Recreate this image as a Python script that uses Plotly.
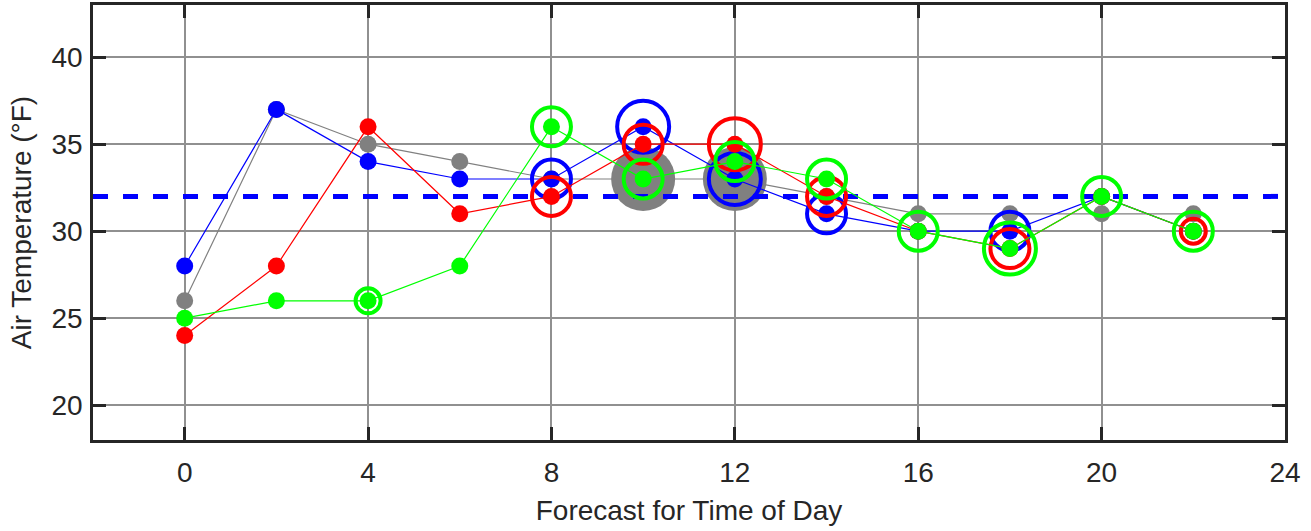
import plotly.graph_objects as go

# ---- data ----
hours = [0, 2, 4, 6, 8, 10, 12, 14, 16, 18, 20, 22]
gray_temp = [26, 37, 35, 34, 33, 33, 33, 32, 31, 31, 31, 31]
blue_temp = [28, 37, 34, 33, 33, 36, 33, 31, 30, 30, 32, 30]
red_temp = [24, 28, 36, 31, 32, 35, 35, 32, 30, 29, 32, 30]
green_temp = [25, 26, 26, 28, 36, 33, 34, 33, 30, 29, 32, 30]

# bubble level per point (0 = none)
gray_level = [0, 0, 0, 0, 0, 4, 4, 0, 0, 0, 0, 0]
blue_level = [0, 0, 0, 0, 2, 3, 3, 2, 0, 2, 0, 0]
red_level = [0, 0, 0, 0, 2, 2, 3, 2, 0, 2, 0, 1]
green_level = [0, 0, 1, 0, 2, 2, 2, 2, 2, 3, 2, 2]

freezing = 32
x_ticks = [0, 4, 8, 12, 16, 20, 24]
y_ticks = [20, 25, 30, 35, 40]

# ---- style ----
LEVEL_SIZE = {1: 25, 2: 39, 3: 52, 4: 64}
TEXT = "#262626"
FONT = "Liberation Sans, Arial, sans-serif"

fig = go.Figure()

series = [
    ("gray", "#808080", gray_temp, gray_level, True),
    ("blue", "#0000ff", blue_temp, blue_level, False),
    ("red", "#ff0000", red_temp, red_level, False),
    ("green", "#00ff00", green_temp, green_level, False),
]


def add_series(name, color, temps, levels, filled):
    fig.add_trace(go.Scatter(
        x=hours, y=temps, mode="lines+markers", name=name,
        line=dict(color=color, width=1.2),
        marker=dict(color=color, size=17, opacity=1, line=dict(width=0)),
    ))
    bx = [h for h, l in zip(hours, levels) if l > 0]
    by = [t for t, l in zip(temps, levels) if l > 0]
    bs = [LEVEL_SIZE[l] for l in levels if l > 0]
    if filled:
        fig.add_trace(go.Scatter(
            x=bx, y=by, mode="markers", name=name + " bubbles",
            marker=dict(color=color, size=bs, opacity=1, symbol="circle",
                        line=dict(width=0)),
        ))
    else:
        fig.add_trace(go.Scatter(
            x=bx, y=by, mode="markers", name=name + " rings",
            marker=dict(color=color, size=bs, opacity=1, symbol="circle-open",
                        line=dict(color=color, width=4)),
        ))


add_series(*series[0])
fig.add_trace(go.Scatter(
    x=[-2, 24], y=[freezing, freezing], mode="lines", name="freezing",
    line=dict(color="#0000ff", width=5, dash="15px,15px"),
))
for s in series[1:]:
    add_series(*s)

axis_common = dict(
    showline=True, linecolor=TEXT, linewidth=2.5, mirror="ticks",
    ticks="inside", ticklen=13, tickwidth=2.5, tickcolor=TEXT,
    showgrid=True, gridcolor="#909090", gridwidth=2, zeroline=False,
    tickfont=dict(family=FONT, size=28, color=TEXT),
    automargin=False,
)

fig.update_layout(
    width=1311, height=531,
    margin=dict(l=93, r=26, t=5, b=91),
    paper_bgcolor="white", plot_bgcolor="white",
    showlegend=False,
    font=dict(family=FONT, color=TEXT),
    xaxis=dict(range=[-2, 24], tickvals=x_ticks, ticklabelstandoff=6,
               title=dict(text="Forecast for Time of Day",
                          font=dict(family=FONT, size=28, color=TEXT), standoff=14),
               **axis_common),
    yaxis=dict(range=[18, 43], tickvals=y_ticks, ticklabelstandoff=2,
               title=dict(text="Air Temperature (°F)",
                          font=dict(family=FONT, size=28, color=TEXT), standoff=12),
               **axis_common),
)

fig.write_html("out.html", config={"displayModeBar": False},
               post_script="document.body.style.margin='0';")
